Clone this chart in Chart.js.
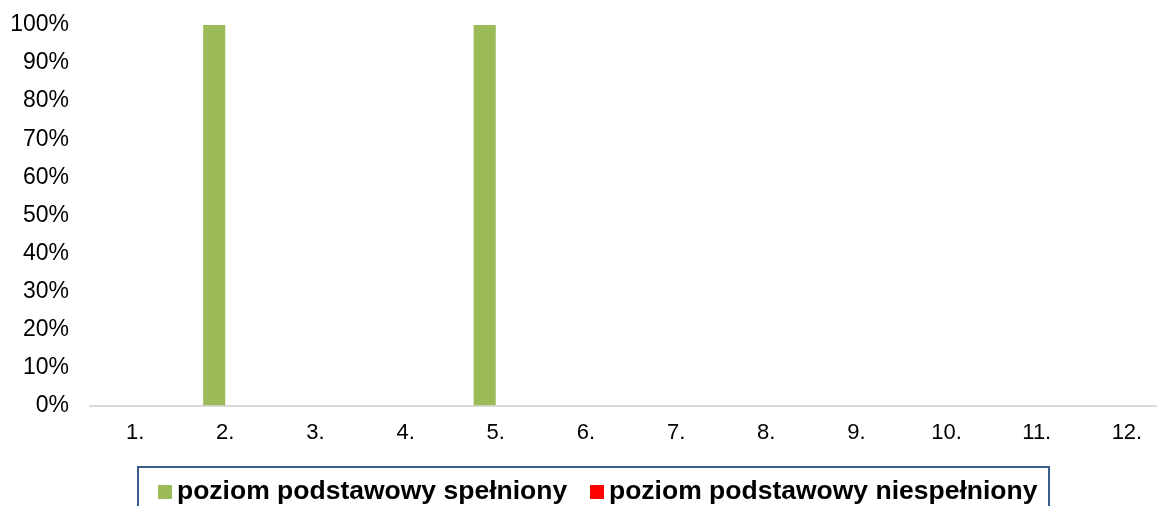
<!DOCTYPE html>
<html>
<head>
<meta charset="utf-8">
<script src="https://cdn.jsdelivr.net/npm/chart.js@4"></script>
<style>
  html, body { margin:0; padding:0; background:#fff; overflow:hidden; width:1157px; height:506px; }
  #wrap { position:relative; width:1172px; height:506px; }
  #legend { position:absolute; left:137px; top:466px; width:913px; height:60px; border:2px solid #385D8A; box-sizing:border-box;
    font-family:"Liberation Sans", Arial, sans-serif; font-weight:bold; font-size:26.5px; color:#000; white-space:nowrap; }
  .item { position:absolute; top:7px; display:flex; align-items:center; }
  .sw { width:14px; height:14px; display:inline-block; margin-right:5px; margin-top:3px; }
</style>
</head>
<body>
<div id="wrap">
  <canvas id="c" width="1172" height="506" style="width:1172px;height:506px"></canvas>
  <div id="legend"></div>
</div>
<script>
const categories = ["1.", "2.", "3.", "4.", "5.", "6.", "7.", "8.", "9.", "10.", "11.", "12."];
const seriesNames = ["poziom podstawowy spełniony", "poziom podstawowy niespełniony"];
const metValues = [0, 100, 0, 0, 100, 0, 0, 0, 0, 0, 0, 0];
const notMetValues = [0, 0, 0, 0, 0, 0, 0, 0, 0, 0, 0, 0];
const seriesColors = ["#9BBB59", "#FF0000"];
const yTicks = [0, 10, 20, 30, 40, 50, 60, 70, 80, 90, 100];

Chart.defaults.font.family = '"Liberation Sans", Arial, sans-serif';
Chart.defaults.color = '#000';

const chart = new Chart(document.getElementById('c'), {
  type: 'bar',
  data: {
    labels: categories,
    datasets: [
      { label: seriesNames[0], data: metValues, backgroundColor: seriesColors[0], borderWidth: 0 },
      { label: seriesNames[1], data: notMetValues, backgroundColor: seriesColors[1], borderWidth: 0 }
    ]
  },
  options: {
    responsive: false,
    animation: false,
    layout: { padding: { left: 0, right: 0, top: 0, bottom: 46 } },
    plugins: { legend: { display: false }, tooltip: { enabled: false } },
    datasets: { bar: { categoryPercentage: 0.49, barPercentage: 1.0 } },
    scales: {
      x: {
        grid: { display: false, drawTicks: false },
        border: { display: true, color: '#D9D9D9', width: 2 },
        ticks: { font: { size: 22 }, color: '#000', padding: 14, maxRotation: 0 }
      },
      y: {
        min: 0, max: 100,
        afterBuildTicks: (s) => { s.ticks = yTicks.map(v => ({ value: v })); },
        afterFit: (s) => { s.width = 90; s.paddingTop = 25; s.paddingBottom = 12; },
        grid: { display: false, drawTicks: false },
        border: { display: false },
        ticks: { font: { size: 23 }, color: '#000', padding: 21, callback: (v) => v + '%' }
      }
    }
  }
});

const legend = document.getElementById('legend');
const lefts = [19, 451];
chart.data.datasets.forEach((ds, i) => {
  const it = document.createElement('div');
  it.className = 'item';
  it.style.left = lefts[i] + 'px';
  const sw = document.createElement('span');
  sw.className = 'sw';
  sw.style.background = ds.backgroundColor;
  const tx = document.createElement('span');
  tx.textContent = ds.label;
  it.appendChild(sw); it.appendChild(tx);
  legend.appendChild(it);
});
</script>
</body>
</html>
